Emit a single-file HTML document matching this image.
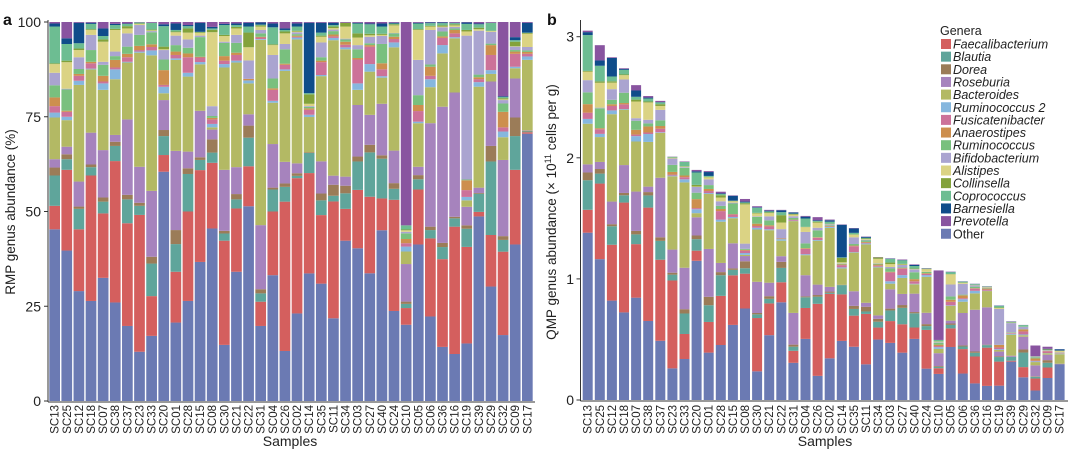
<!DOCTYPE html>
<html><head><meta charset="utf-8">
<style>
html,body{margin:0;padding:0;background:#fff;}
svg{display:block;font-family:"Liberation Sans",Arial,sans-serif;}
</style></head>
<body>
<svg id="chart" width="1080" height="457" viewBox="0 0 1080 457" xmlns="http://www.w3.org/2000/svg">
<g id="panelA"></g>
<g id="panelB"></g>
<g id="legend"></g>
</svg>
<script>
const samples = ["SC13","SC25","SC12","SC18","SC07","SC38","SC37","SC23","SC33","SC20","SC01","SC28","SC15","SC08","SC30","SC21","SC22","SC31","SC04","SC26","SC02","SC14","SC35","SC11","SC34","SC03","SC27","SC40","SC24","SC10","SC05","SC06","SC36","SC16","SC19","SC39","SC29","SC32","SC09","SC17"];
const genera = ["Other","Faecalibacterium","Blautia","Dorea","Roseburia","Bacteroides","Ruminococcus 2","Fusicatenibacter","Anaerostipes","Ruminococcus","Bifidobacterium","Alistipes","Collinsella","Coprococcus","Barnesiella","Prevotella"];
const legendOrder = ["Faecalibacterium","Blautia","Dorea","Roseburia","Bacteroides","Ruminococcus 2","Fusicatenibacter","Anaerostipes","Ruminococcus","Bifidobacterium","Alistipes","Collinsella","Coprococcus","Barnesiella","Prevotella","Other"];
const colors = ["#6b7ab3","#d45f5e","#5fa59b","#9b7c58","#a683bd","#b3b964","#86b7de","#cc7299","#cd8f4e","#79c07e","#aaa4d0","#dbd384","#83a23b","#6dbd92","#0f4c8a","#8954a0"];
// RMP % per genus (one array per genus, 40 samples)
const other = [45.3,39.7,29,26.4,32.5,26,19.8,13,17.2,60.5,20.7,26.4,36.8,45.7,14.8,34.1,51.7,19.8,33.2,13.2,23.1,33.7,31,21.8,42.3,40.3,33.7,45.1,23.8,20.1,41.3,22.3,14.3,12.4,15.2,48.8,30.2,17.4,41.3,70.6];
const faecalibacterium = [6.2,21.3,16.3,33.1,17,37.3,27.1,36.1,10.5,4.4,13.4,23.6,24.3,17.4,27.5,16.7,10.6,6.4,16.8,39.4,35.7,26.5,18.1,30.8,8.4,15.4,20.2,8.4,29.4,4.4,14.5,20.6,23.2,33.6,25.5,1.2,13.6,22,19.7,0.4];
const blautia = [8,2.8,5.4,2.2,3.1,4,6.3,2.4,8.6,5,7.3,9.9,2.7,2.7,1.9,2.4,7.6,2.2,5.8,3.9,0.6,5.3,3.9,1.5,4.1,7.5,11.7,10.5,2.9,1.1,2.7,2.2,3.2,2.2,4.8,4.8,19.4,3.1,8.9,0.2];
const dorea = [2.1,1.3,0.6,0.7,1.1,1.1,1.2,0.8,1.8,1.6,3.7,1.5,0.7,3.5,0.7,1.4,3.2,1.1,0.5,0.9,0.7,0.2,1.8,2.9,2,1.3,2,0.9,1.5,0.6,1.1,0.9,1.1,0.4,0.9,0.2,4.1,1,4.9,0.2];
const roseburia = [2.2,2,6.6,8.4,12.5,1.8,19.9,9.5,17.4,7.9,20.9,4.4,12.3,2.6,16.1,7.1,3,16.9,11.5,5.7,2.6,0,8.5,2.4,2.4,13.6,7.9,13.6,8.6,9.9,2.2,27.3,36,32.8,4.9,1.4,17,20.1,10.3,0.1];
const bacteroides = [11,7,25.5,16.7,15.9,14.7,15,30.1,35.8,1.8,24,19.8,12.3,0.6,27,27.6,8.2,48.9,10.9,24,32.7,9.3,22.5,35.7,33.6,4,11.4,6.9,27.3,3.3,11.5,9.5,14.1,14.3,1.7,26.7,2,6,2.7,18.6];
const ruminococcus2 = [1.3,0.9,1.1,0.2,1.7,2.6,0.2,0.3,1.3,1.7,0.4,1,0.6,0.9,0.9,0.5,0.8,0.2,0.5,0.4,0.5,0.6,0.3,0.6,0.5,1.7,2,0.4,1.3,1.3,0.4,2.1,2.2,0.3,0.9,1.2,1,1.5,0.4,0.9];
const fusicatenibacter = [1.7,1.3,1.3,1.4,0.5,0.5,1.2,0.4,0.9,0.5,0.9,4.1,1.2,1.2,0.9,1.5,0,0.4,2.9,1.2,0.2,1.3,3.4,0.4,0.7,6.3,4.6,1.8,0.9,0.9,2.8,0.9,1.9,1,1.8,0.8,4,1.1,3.4,0.7];
const anaerostipes = [2.3,0.3,0.5,0.4,1.5,2,0.9,1.1,0.7,3.9,0.9,1,0.2,0.4,1.2,0.6,0.4,0.2,0.4,0.3,0.3,0.4,0.4,0.5,0.8,0.4,0.4,1.6,0.6,1.1,1.6,2.4,0.4,0.9,2.6,0.5,2.6,4.1,0.6,0.5];
const ruminococcus = [3.2,5.6,1.3,3.1,2.9,1,1.9,2.9,3.2,2.8,1.7,1.5,5.2,0.5,3.5,2.6,0,0.9,2.6,3.8,0.4,0.4,0.9,0.9,0.6,2.3,0.5,5.1,0.9,1.5,2.6,0.6,1.3,0.4,0.2,0.7,0.4,2.2,0.4,0.4];
const bifidobacterium = [3.3,0.2,3.1,4,0.8,1.2,3.5,2.6,0.3,2.5,2.5,2.2,0.4,2.6,0.3,2.1,4.9,0.9,6.2,1.4,0.5,0.2,3.9,0.4,0.2,1.1,1.7,2.1,0.1,0.4,9.3,9.1,1.1,0.4,38,11.6,3.1,0.9,0.9,0.9];
const alistipes = [2.3,7,1.9,1.3,5.3,5.7,1.3,0.3,0.2,0.2,0.9,1.8,0.7,19.6,1.5,1.7,3.5,0.9,2.6,2.8,0.2,0.6,1.5,0.4,3.2,2,0.4,0.3,2,0.4,7.9,0.9,0.2,0.4,1.1,0.4,0.2,0.2,0.1,3.5];
const collinsella = [0.2,0.4,0.4,0.2,0.6,0.3,0.6,0.1,0.2,0.7,0.2,1.1,0.2,0.6,0.3,0.4,3.9,0.3,0.2,0.5,0.2,2.5,0.3,0.4,1,1.1,0.4,0.3,0.3,0.2,0.2,0.2,0.3,0.3,0.4,0.4,0.1,0.3,1.2,0.2];
const coprococcus = [9.7,4.4,1.4,1.4,0.9,1,0.6,0.3,1.8,5.4,0.4,0.6,0.1,0.4,2.6,0.5,1.6,0.2,4.5,0.4,1.1,0.3,0.8,0.4,0,2.6,2.5,1.9,0.2,1.1,1.5,0.7,0.6,0.3,1.6,0.9,2.1,0.3,0.4,0.1];
const barnesiella = [0.8,1.5,5.4,0.3,2,0.3,0.1,0,0,0.5,1.7,0.3,2.4,0.4,0.3,0.4,1,0.6,1,0.4,0.8,18.6,2.6,0.6,0,0.2,0.2,0.8,0.2,0,0.2,0.2,0.2,0.1,0.4,0.2,0,0.2,0.8,2.6];
const prevotella = [0.4,4.3,0.2,0.2,1.7,0.5,0.4,0.1,0.2,0.6,0.4,0.8,0.2,1.3,0.5,0.4,0.2,0.1,0.4,1.7,0.4,0.2,0.2,0.2,0.2,0.2,0.4,0.4,0.2,53.6,0.2,0.1,0.1,0.2,0.1,0.4,0.2,19.6,4,0.2];
// QMP total load (x10^11 cells per g) per sample
const qmpTotals = [3.05,2.93,2.83,2.74,2.6,2.51,2.47,2.01,1.97,1.9,1.89,1.72,1.69,1.66,1.6,1.57,1.57,1.55,1.52,1.51,1.49,1.45,1.42,1.35,1.18,1.17,1.16,1.12,1.09,1.07,1.06,0.98,0.96,0.94,0.78,0.65,0.62,0.45,0.44,0.42];
const ticksA = [0,25,50,75,100];
const ticksB = [0,1,2,3];
const series = [other,faecalibacterium,blautia,dorea,roseburia,bacteroides,ruminococcus2,fusicatenibacter,anaerostipes,ruminococcus,bifidobacterium,alistipes,collinsella,coprococcus,barnesiella,prevotella];

const NS="http://www.w3.org/2000/svg";
function mk(tag,attrs,parent,text){const e=document.createElementNS(NS,tag);for(const k in attrs)e.setAttribute(k,attrs[k]);if(text!==undefined)e.textContent=text;parent.appendChild(e);return e;}
const xA=i=>49.3+i*12.12, yA=v=>401-v*3.79;
const xB=i=>582.7+i*12.1, yB=v=>400-v*121.1;
const slug=s=>s.toLowerCase().replace(/\s+/g,'-');

function drawPanel(g,xf,yf,bw,isQ){
  for(let i=0;i<samples.length;i++){
    let sum=0;for(const s of series)sum+=s[i];
    const scale=isQ?qmpTotals[i]/sum:100/sum;
    let cum=0;
    for(let k=0;k<series.length;k++){
      const v=series[k][i]*scale;
      if(v<=0){continue;}
      const r=mk('rect',{x:xf(i).toFixed(2),y:yf(cum+v).toFixed(2),width:bw,height:(yf(cum)-yf(cum+v)).toFixed(2),fill:colors[k]},g);
      
      
      cum+=v;
    }
    const t=mk('text',{x:0,y:0,transform:`translate(${(xf(i)+bw/2+4).toFixed(1)},405) rotate(-90)`,'text-anchor':'end','font-size':'11.5',fill:'#222'},g,samples[i]);
    
    
  }
}
const gA=document.getElementById('panelA'), gB=document.getElementById('panelB');
drawPanel(gA,xA,yA,10.7,false);
drawPanel(gB,xB,yB,10,true);

// axes A
let l=mk('line',{x1:48,y1:20,x2:48,y2:402,stroke:'#333','stroke-width':1},gA);

l=mk('line',{x1:48,y1:402,x2:535,y2:402,stroke:'#333','stroke-width':1},gA);

for(const t of ticksA){
  mk('line',{x1:44,x2:48,y1:yA(t),y2:yA(t),stroke:'#333'},gA);
  const tx=mk('text',{x:41,y:yA(t)+5,'text-anchor':'end','font-size':'14',fill:'#222'},gA,String(t));
  
}
let tt=mk('text',{transform:'translate(15,212) rotate(-90)','text-anchor':'middle','font-size':'13.5',fill:'#222'},gA,'RMP genus abundance (%)');

tt=mk('text',{x:290,y:446,'text-anchor':'middle','font-size':'14',fill:'#222'},gA,'Samples');

tt=mk('text',{x:3,y:25,'font-size':'16','font-weight':'bold',fill:'#111'},gA,'a');


// axes B
l=mk('line',{x1:580.5,y1:20,x2:580.5,y2:401,stroke:'#333','stroke-width':1},gB);

l=mk('line',{x1:580.5,y1:401,x2:1068,y2:401,stroke:'#333','stroke-width':1},gB);

for(const t of ticksB){
  mk('line',{x1:576.5,x2:580.5,y1:yB(t),y2:yB(t),stroke:'#333'},gB);
  const tx=mk('text',{x:574,y:yB(t)+5,'text-anchor':'end','font-size':'14',fill:'#222'},gB,String(t));
  
}
tt=mk('text',{transform:'translate(556,212) rotate(-90)','text-anchor':'middle','font-size':'13.5',fill:'#222'},gB);

tt.innerHTML='QMP genus abundance (× 10<tspan dy="-5" font-size="9">11</tspan><tspan dy="5"> cells per g)</tspan>';
tt=mk('text',{x:825,y:446,'text-anchor':'middle','font-size':'14',fill:'#222'},gB,'Samples');

tt=mk('text',{x:547,y:25,'font-size':'16','font-weight':'bold',fill:'#111'},gB,'b');


// legend
const gL=document.getElementById('legend');
tt=mk('text',{x:940,y:35,'font-size':'12.5',fill:'#222'},gL,'Genera');

legendOrder.forEach((name,j)=>{
  const k=genera.indexOf(name);
  const y=44+j*12.65;
  const e=mk('g',{},gL);
  
  
  mk('rect',{x:941,y:y-5,width:10,height:10,fill:colors[k]},e);
  mk('text',{x:953,y:y+4.5,'font-size':'12.5','font-style':name==='Other'?'normal':'italic',fill:'#222'},e,name);
});
</script>
</body></html>
